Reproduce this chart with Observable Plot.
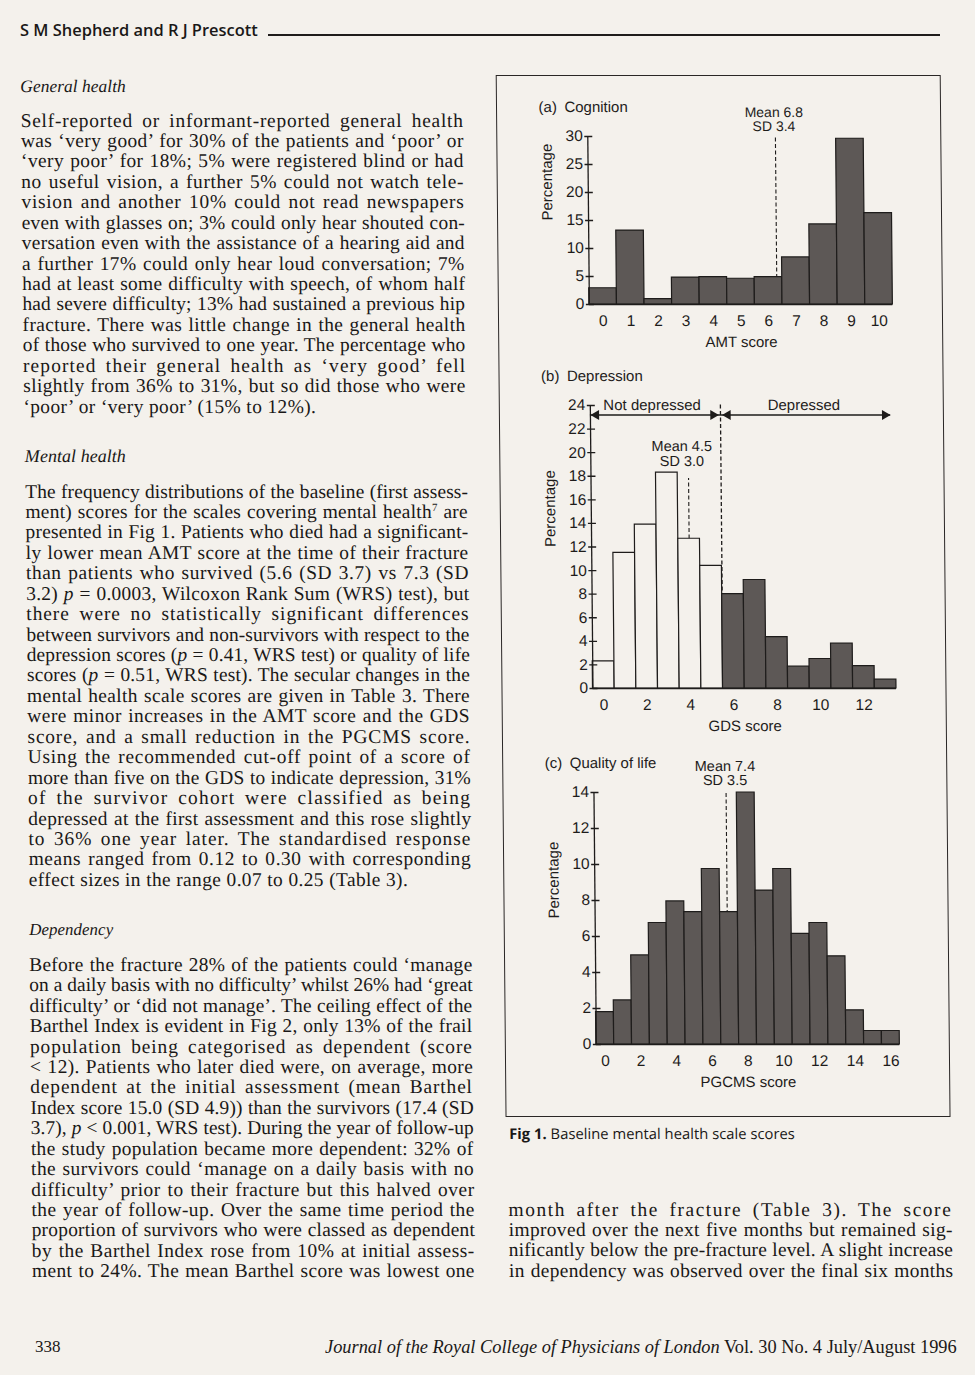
<!DOCTYPE html>
<html>
<head>
<meta charset="utf-8">
<script src="https://cdn.jsdelivr.net/npm/d3@7"></script>
<script src="https://cdn.jsdelivr.net/npm/@observablehq/plot@0.6"></script>
<style>
html, body { margin:0; padding:0; background:#f4f1ec; }
#page { position:relative; width:975px; height:1375px; overflow:hidden; background:#f4f1ec; color:#1a1817; }
#sheet { position:absolute; left:0; top:0; width:975px; height:1375px; transform:skewX(0.54deg); transform-origin:0 0; }
.col { position:absolute; font-family:"Liberation Serif", "DejaVu Serif", serif; font-size:19.5px; line-height:20.45px; }
.ln { display:block; white-space:nowrap; height:20.45px; }
.ln sup { font-size:11px; line-height:0; vertical-align:7px; }
.hd { position:absolute; font-family:"Liberation Serif", serif; font-style:italic; font-size:19px; line-height:20.45px; white-space:nowrap; }
.abs { position:absolute; white-space:nowrap; }
#box { position:absolute; left:495px; top:75px; width:444.5px; height:1042px; border:1.6px solid #2a2726; box-sizing:border-box; }
svg.panel { position:absolute; left:495px; overflow:visible; }
</style>
</head>
<body>
<div id="page">
  <div class="abs fit" data-fw="238" style="left:20px; top:20.5px; font-family:'Open Sans',sans-serif; font-weight:600; font-size:15px; line-height:18px;">S M Shepherd and R J Prescott</div>
  <div class="abs" style="left:268px; top:34px; width:672px; height:1.6px; background:#1f1c1b;"></div>
  <div id="sheet">
    <div class="hd fit" data-fw="106" style="left:19.5px; top:75.8px;">General health</div>
    <div class="hd fit" data-fw="101" style="left:20.5px; top:445.8px;">Mental health</div>
    <div class="hd fit" data-fw="84" style="left:20.5px; top:919.8px;">Dependency</div>
    <div class="col" id="p1" style="left:19.5px; top:110.5px; width:443px;"></div>
    <div class="col" id="p2" style="left:20.5px; top:481.5px; width:443px;"></div>
    <div class="col" id="p3" style="left:20px; top:954.8px; width:443px;"></div>
    <div class="col" id="p4" style="left:497px; top:1199.5px; width:444px; line-height:20.67px;"></div>
    <div id="box"></div>
    <div class="abs fit" data-fw="286" style="left:498.5px; top:1124px; font-family:'Open Sans',sans-serif; font-size:14.5px; line-height:18px;"><b style="font-weight:700">Fig 1.</b> Baseline mental health scale scores</div>
  </div>
  <div class="abs fit" data-fw="26" style="left:35px; top:1337px; font-family:'Liberation Serif',serif; font-size:17px; line-height:20px;">338</div>
  <div class="abs fit" data-fw="632" style="left:325px; top:1337px; font-family:'Liberation Serif',serif; font-size:18px; line-height:20px;"><i>Journal of the Royal College of Physicians of London</i> Vol. 30 No. 4 July/August 1996</div>
</div>
<script>
// ---------------- chart data ----------------
const amtScores   = [0, 1, 2, 3, 4, 5, 6, 7, 8, 9, 10];
const amtPercent  = [2.9, 13.2, 0.95, 4.8, 4.9, 4.6, 4.9, 8.4, 14.3, 29.6, 16.3];
const amtYTicks   = [0, 5, 10, 15, 20, 25, 30];
const amtMean = 6.8, amtSD = 3.4;

const gdsScores   = [0, 1, 2, 3, 4, 5, 6, 7, 8, 9, 10, 11, 12, 13];
const gdsPercent  = [2.3, 11.5, 13.9, 18.3, 12.7, 10.4, 8.0, 9.2, 4.35, 1.85, 2.5, 3.8, 1.9, 0.75];
const gdsYTicks   = [0, 2, 4, 6, 8, 10, 12, 14, 16, 18, 20, 22, 24];
const gdsXTicks   = [0, 2, 4, 6, 8, 10, 12];
const gdsMean = 4.5, gdsSD = 3.0;
const gdsCutoff = 6;               // "more than five" indicates depression
const gdsGroups = ["Not depressed", "Depressed"];

const pgcmsScores  = [0, 1, 2, 3, 4, 5, 6, 7, 8, 9, 10, 11, 12, 13, 14, 15, 16];
const pgcmsPercent = [1.8, 2.45, 4.95, 6.75, 7.95, 7.35, 9.75, 7.35, 14.0, 8.55, 9.75, 6.15, 6.75, 4.9, 1.9, 0.75, 0.75];
const pgcmsYTicks  = [0, 2, 4, 6, 8, 10, 12, 14];
const pgcmsXTicks  = [0, 2, 4, 6, 8, 10, 12, 14, 16];
const pgcmsMean = 7.4, pgcmsSD = 3.5;

const panelTitles = ["(a)\u2002Cognition", "(b)\u2002Depression", "(c)\u2002Quality of life"];
const axisTitles  = ["AMT score", "GDS score", "PGCMS score"];
const yTitle = "Percentage";

// ---------------- page text ----------------
const para1 = [
"Self-reported or informant-reported general health",
"was ‘very good’ for 30% of the patients and ‘poor’ or",
"‘very poor’ for 18%; 5% were registered blind or had",
"no useful vision, a further 5% could not watch tele-",
"vision and another 10% could not read newspapers",
"even with glasses on; 3% could only hear shouted con-",
"versation even with the assistance of a hearing aid and",
"a further 17% could only hear loud conversation; 7%",
"had at least some difficulty with speech, of whom half",
"had severe difficulty; 13% had sustained a previous hip",
"fracture. There was little change in the general health",
"of those who survived to one year. The percentage who",
"reported their general health as ‘very good’ fell",
"slightly from 36% to 31%, but so did those who were",
"‘poor’ or ‘very poor’ (15% to 12%)."];
const para2 = [
"The frequency distributions of the baseline (first assess-",
"ment) scores for the scales covering mental health<sup>7</sup> are",
"presented in Fig 1. Patients who died had a significant-",
"ly lower mean AMT score at the time of their fracture",
"than patients who survived (5.6 (SD 3.7) vs 7.3 (SD",
"3.2) <i>p</i> = 0.0003, Wilcoxon Rank Sum (WRS) test), but",
"there were no statistically significant differences",
"between survivors and non-survivors with respect to the",
"depression scores (<i>p</i> = 0.41, WRS test) or quality of life",
"scores (<i>p</i> = 0.51, WRS test). The secular changes in the",
"mental health scale scores are given in Table 3. There",
"were minor increases in the AMT score and the GDS",
"score, and a small reduction in the PGCMS score.",
"Using the recommended cut-off point of a score of",
"more than five on the GDS to indicate depression, 31%",
"of the survivor cohort were classified as being",
"depressed at the first assessment and this rose slightly",
"to 36% one year later. The standardised response",
"means ranged from 0.12 to 0.30 with corresponding",
"effect sizes in the range 0.07 to 0.25 (Table 3)."];
const para3 = [
"Before the fracture 28% of the patients could ‘manage",
"on a daily basis with no difficulty’ whilst 26% had ‘great",
"difficulty’ or ‘did not manage’. The ceiling effect of the",
"Barthel Index is evident in Fig 2, only 13% of the frail",
"population being categorised as dependent (score",
"&lt; 12). Patients who later died were, on average, more",
"dependent at the initial assessment (mean Barthel",
"Index score 15.0 (SD 4.9)) than the survivors (17.4 (SD",
"3.7), <i>p</i> &lt; 0.001, WRS test). During the year of follow-up",
"the study population became more dependent: 32% of",
"the survivors could ‘manage on a daily basis with no",
"difficulty’ prior to their fracture but this halved over",
"the year of follow-up. Over the same time period the",
"proportion of survivors who were classed as dependent",
"by the Barthel Index rose from 10% at initial assess-",
"ment to 24%. The mean Barthel score was lowest one"];
const para4 = [
"month after the fracture (Table 3). The score",
"improved over the next five months but remained sig-",
"nificantly below the pre-fracture level. A slight increase",
"in dependency was observed over the final six months"];

function fillCol(id, lines, lastJustified) {
  const col = document.getElementById(id);
  const W = parseFloat(col.style.width);
  lines.forEach((html, i) => {
    const ln = document.createElement("div");
    ln.className = "ln";
    const sp = document.createElement("span");
    sp.innerHTML = html;
    ln.appendChild(sp);
    col.appendChild(ln);
    const justify = lastJustified || i < lines.length - 1;
    const nat = sp.offsetWidth;
    const txt = sp.textContent;
    const nChars = txt.length;
    const nSpaces = (txt.match(/ /g) || []).length;
    const extra = W - nat;
    if (justify && extra > 0) {
      const ls = extra * 0.7 / nChars;
      const ws = nSpaces ? extra * 0.3 / nSpaces : 0;
      sp.style.letterSpacing = (nSpaces ? ls : extra / nChars) + "px";
      sp.style.wordSpacing = ws + "px";
    } else if (!justify && extra > 0) {
      sp.style.letterSpacing = "0.35px";
    } else if (extra < 0) {
      sp.style.letterSpacing = (extra / nChars) + "px";
    }
  });
}
fillCol("p1", para1, false);
fillCol("p2", para2, false);
fillCol("p3", para3, true);
fillCol("p4", para4, true);

document.querySelectorAll(".fit").forEach(el => {
  const target = +el.dataset.fw;
  const fs = parseFloat(getComputedStyle(el).fontSize);
  el.style.fontSize = (fs * target / el.offsetWidth) + "px";
});

// ---------------- charts ----------------
const ink = "#1e1c1b";
const barFill = "#5d5856";
const paper = "#f4f1ec";
const frameWidth = 303.5;
const sheet = document.getElementById("sheet");
const baseStyle = {background: "transparent", fontFamily: "'Liberation Sans', Arial, sans-serif", fontSize: "15px", color: ink, overflow: "visible"};
const common = {width: 445, marginLeft: 91, marginRight: 445 - 91 - frameWidth};
const txtStyle = {fill: ink, fontSize: 15, stroke: null};
const tickFont = 15.5;

function yAxis(ticks, xMax) {
  const u = xMax / frameWidth; // data units per pixel
  return [
    Plot.ruleY(ticks, {x1: -3 * u, x2: 5 * u, stroke: ink, strokeWidth: 1.3}),
    Plot.axisY({ticks, tickSize: 0, tickPadding: 5, label: null, fontSize: tickFont, fill: ink})
  ];
}
function xAxis(labels) {
  return Plot.axisX({ticks: labels.map(v => v + 0.5), tickFormat: d => String(d - 0.5), tickSize: 0, tickPadding: 10, label: null, fontSize: tickFont, fill: ink});
}
function frameLabels(i) {
  return [
    Plot.text([panelTitles[i]], {text: d => d, frameAnchor: "top-left", dx: -49, dy: -29, textAnchor: "start", lineAnchor: "middle", ...txtStyle}),
    Plot.text([axisTitles[i]], {text: d => d, frameAnchor: "bottom", dy: 38, lineAnchor: "middle", ...txtStyle}),
    Plot.text([yTitle], {text: d => d, frameAnchor: "left", rotate: -90, dx: -41, lineAnchor: "middle", ...txtStyle})
  ];
}
function place(svg, top) {
  svg.classList.add("panel");
  svg.style.top = top + "px";
  sheet.appendChild(svg);
}

// (a) Cognition
const amtData = amtScores.map((s, i) => ({score: s, pct: amtPercent[i]}));
const amtXMax = amtScores.length;
place(Plot.plot({
  ...common, height: 280, marginTop: 51, marginBottom: 61,
  x: {domain: [0, amtXMax]},
  y: {domain: [0, d3.max(amtYTicks)]},
  style: baseStyle,
  marks: [
    Plot.ruleX([amtMean], {y1: 0, y2: d3.max(amtYTicks), stroke: ink, strokeWidth: 1.1, strokeDasharray: "4,2.5"}),
    Plot.rect(amtData, {x1: "score", x2: d => d.score + 1, y1: 0, y2: "pct", fill: barFill, stroke: ink, strokeWidth: 1.2}),
    Plot.ruleX([0], {y1: 0, y2: d3.max(amtYTicks), stroke: ink, strokeWidth: 1.3}),
    Plot.ruleY([0], {stroke: ink, strokeWidth: 1.3}),
    ...yAxis(amtYTicks, amtXMax),
    xAxis(amtScores),
    Plot.text([`Mean ${amtMean}`], {text: d => d, x: amtMean - 0.05, frameAnchor: "top", dy: -23.5, lineAnchor: "middle", ...txtStyle, fontSize: 14}),
    Plot.text([`SD ${amtSD}`], {text: d => d, x: amtMean - 0.05, frameAnchor: "top", dy: -9.5, lineAnchor: "middle", ...txtStyle, fontSize: 14}),
    ...frameLabels(0)
  ]
}), 85);

// (b) Depression
const gdsData = gdsScores.map((s, i) => ({score: s, pct: gdsPercent[i]}));
const gdsTop = d3.max(gdsYTicks);
const gdsXMax = gdsScores.length;
const gdsArrowY = 23.2, gdsArrowEnd = 13.85;
const gdsArrows = [{a: 0, b: gdsCutoff}, {a: gdsCutoff, b: gdsArrowEnd}];
const gdsGroupLabels = [{x: 2.85, label: gdsGroups[0]}, {x: 9.85, label: gdsGroups[1]}];
const gdsMeanLabel = [{x: 4.2, y: 20.5, label: `Mean ${gdsMean}`}, {x: 4.2, y: 19.25, label: `SD ${gdsSD.toFixed(1)}`}];
place(Plot.plot({
  ...common, height: 385, marginTop: 50, marginBottom: 52,
  x: {domain: [0, gdsXMax]},
  y: {domain: [0, gdsTop]},
  style: baseStyle,
  marks: [
    Plot.ruleX([gdsMean], {y1: 0, y2: 17.8, stroke: ink, strokeWidth: 1.1, strokeDasharray: "4,2.5"}),
    Plot.ruleX([gdsCutoff], {y1: 0, y2: gdsTop + 0.15, stroke: ink, strokeWidth: 1.3, strokeDasharray: "4,2.5"}),
    Plot.rect(gdsData.filter(d => d.score < gdsCutoff), {x1: "score", x2: d => d.score + 1, y1: 0, y2: "pct", fill: paper, stroke: ink, strokeWidth: 1.2}),
    Plot.rect(gdsData.filter(d => d.score >= gdsCutoff), {x1: "score", x2: d => d.score + 1, y1: 0, y2: "pct", fill: barFill, stroke: ink, strokeWidth: 1.2}),
    Plot.ruleX([0], {y1: 0, y2: gdsTop, stroke: ink, strokeWidth: 1.3}),
    Plot.ruleY([0], {stroke: ink, strokeWidth: 1.3}),
    ...yAxis(gdsYTicks, gdsXMax),
    xAxis(gdsXTicks),
    Plot.ruleY(gdsArrows, {x1: "a", x2: "b", y: gdsArrowY, stroke: ink, strokeWidth: 1.6}),
    Plot.dot([gdsCutoff - 0.07, gdsArrowEnd], {x: d => d, y: gdsArrowY, symbol: "triangle", r: 3.7, rotate: 90, dx: -5.8, fill: ink, stroke: null}),
    Plot.dot([0, gdsCutoff + 0.07], {x: d => d, y: gdsArrowY, symbol: "triangle", r: 3.7, rotate: -90, dx: 5.8, fill: ink, stroke: null}),
    Plot.text(gdsGroupLabels, {x: "x", y: gdsTop, text: "label", lineAnchor: "middle", ...txtStyle}),
    Plot.text(gdsMeanLabel, {x: "x", y: "y", text: "label", lineAnchor: "middle", ...txtStyle, fontSize: 14.5}),
    ...frameLabels(1)
  ]
}), 355);

// (c) Quality of life
const pgcmsData = pgcmsScores.map((s, i) => ({score: s, pct: pgcmsPercent[i]}));
const pgTop = d3.max(pgcmsYTicks);
const pgXMax = pgcmsScores.length;
place(Plot.plot({
  ...common, height: 355, marginTop: 47, marginBottom: 56,
  x: {domain: [0, pgXMax]},
  y: {domain: [0, pgTop]},
  style: baseStyle,
  marks: [
    Plot.ruleX([pgcmsMean], {y1: 0, y2: pgTop, stroke: ink, strokeWidth: 1.1, strokeDasharray: "4,2.5"}),
    Plot.rect(pgcmsData, {x1: "score", x2: d => d.score + 1, y1: 0, y2: "pct", fill: barFill, stroke: ink, strokeWidth: 1.2}),
    Plot.ruleX([0], {y1: 0, y2: pgTop, stroke: ink, strokeWidth: 1.3}),
    Plot.ruleY([0], {stroke: ink, strokeWidth: 1.3}),
    ...yAxis(pgcmsYTicks, pgXMax),
    xAxis(pgcmsXTicks),
    Plot.text([`Mean ${pgcmsMean}`], {text: d => d, x: pgcmsMean - 0.05, frameAnchor: "top", dy: -26, lineAnchor: "middle", ...txtStyle, fontSize: 14.5}),
    Plot.text([`SD ${pgcmsSD}`], {text: d => d, x: pgcmsMean - 0.05, frameAnchor: "top", dy: -12, lineAnchor: "middle", ...txtStyle, fontSize: 14.5}),
    ...frameLabels(2)
  ]
}), 745);
</script>
</body>
</html>
